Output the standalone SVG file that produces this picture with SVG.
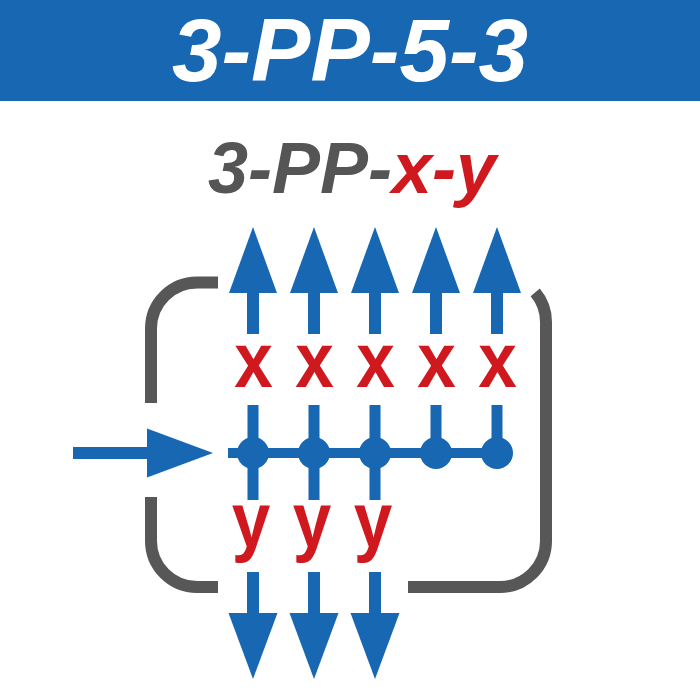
<svg xmlns="http://www.w3.org/2000/svg" width="700" height="700" viewBox="0 0 700 700">
<style>
.bl{fill:#1767b3}
.bls{stroke:#1767b3;fill:none}
.gr{stroke:#575757;stroke-width:12;fill:none}
.lbl{font-family:"Liberation Sans",Arial,sans-serif;font-weight:bold;fill:#d0191f;text-anchor:middle;font-size:77px}
.ttl{font-family:"Liberation Sans",Arial,sans-serif;font-weight:bold;font-style:italic;text-anchor:middle}
</style>
<rect width="700" height="700" fill="#ffffff"/>
<g id="header">
<rect x="0" y="0" width="700" height="101" class="bl"/>
<text class="ttl" x="350" y="81" font-size="89" fill="#ffffff">3-PP-5-3</text>
</g>
<g id="subtitle">
<text class="ttl" x="352" y="193" font-size="72" fill="#555555">3-PP-<tspan fill="#d0191f">x-y</tspan></text>
</g>
<g id="frame">
<path class="gr" d="M218,282.5 H197 A46,46 0 0 0 151,328.5 V403"/>
<path class="gr" d="M151,497 V541 A46,46 0 0 0 197,587 H218"/>
<path class="gr" d="M535.2,292.4 A46,46 0 0 1 546,322 V541 A46,46 0 0 1 500,587 H408"/>
</g>
<g id="connectors">
<line class="bls" x1="73" y1="453" x2="150" y2="453" stroke-width="12"/>
<polygon class="bl" points="147,428.5 213,453 147,477.5"/>
<line class="bls" x1="228" y1="453" x2="497" y2="453" stroke-width="10"/>
<g stroke-width="11">
<line class="bls" x1="253" y1="405" x2="253" y2="500"/>
<line class="bls" x1="314" y1="405" x2="314" y2="500"/>
<line class="bls" x1="375" y1="405" x2="375" y2="500"/>
<line class="bls" x1="436" y1="405" x2="436" y2="453"/>
<line class="bls" x1="497" y1="405" x2="497" y2="453"/>
</g>
<g stroke-width="12">
<line class="bls" x1="253" y1="334" x2="253" y2="290"/>
<line class="bls" x1="314" y1="334" x2="314" y2="290"/>
<line class="bls" x1="375" y1="334" x2="375" y2="290"/>
<line class="bls" x1="436" y1="334" x2="436" y2="290"/>
<line class="bls" x1="497" y1="334" x2="497" y2="290"/>
<line class="bls" x1="253" y1="572" x2="253" y2="616"/>
<line class="bls" x1="314" y1="572" x2="314" y2="616"/>
<line class="bls" x1="375" y1="572" x2="375" y2="616"/>
</g>
<polygon class="bl" points="253,227 277,293 229,293"/>
<polygon class="bl" points="314,227 338,293 290,293"/>
<polygon class="bl" points="375,227 399,293 351,293"/>
<polygon class="bl" points="436,227 460,293 412,293"/>
<polygon class="bl" points="497,227 521,293 473,293"/>
<polygon class="bl" points="228.5,613 277.5,613 253,679"/>
<polygon class="bl" points="289.5,613 338.5,613 314,679"/>
<polygon class="bl" points="350.5,613 399.5,613 375,679"/>
</g>
<g id="node-1"><circle class="bl" cx="253" cy="453" r="16"/></g>
<g id="node-2"><circle class="bl" cx="314" cy="453" r="16"/></g>
<g id="node-3"><circle class="bl" cx="375" cy="453" r="16"/></g>
<g id="node-4"><circle class="bl" cx="436" cy="453" r="16"/></g>
<g id="node-5"><circle class="bl" cx="497" cy="453" r="16"/></g>
<g id="labels-x">
<text class="lbl" transform="translate(253.5,387) scale(0.9,1)">x</text>
<text class="lbl" transform="translate(314.5,387) scale(0.9,1)">x</text>
<text class="lbl" transform="translate(375.5,387) scale(0.9,1)">x</text>
<text class="lbl" transform="translate(436.5,387) scale(0.9,1)">x</text>
<text class="lbl" transform="translate(497.5,387) scale(0.9,1)">x</text>
</g>
<g id="labels-y">
<text class="lbl" transform="translate(251,547) scale(0.9,1)">y</text>
<text class="lbl" transform="translate(312,547) scale(0.9,1)">y</text>
<text class="lbl" transform="translate(373,547) scale(0.9,1)">y</text>
</g>
</svg>
